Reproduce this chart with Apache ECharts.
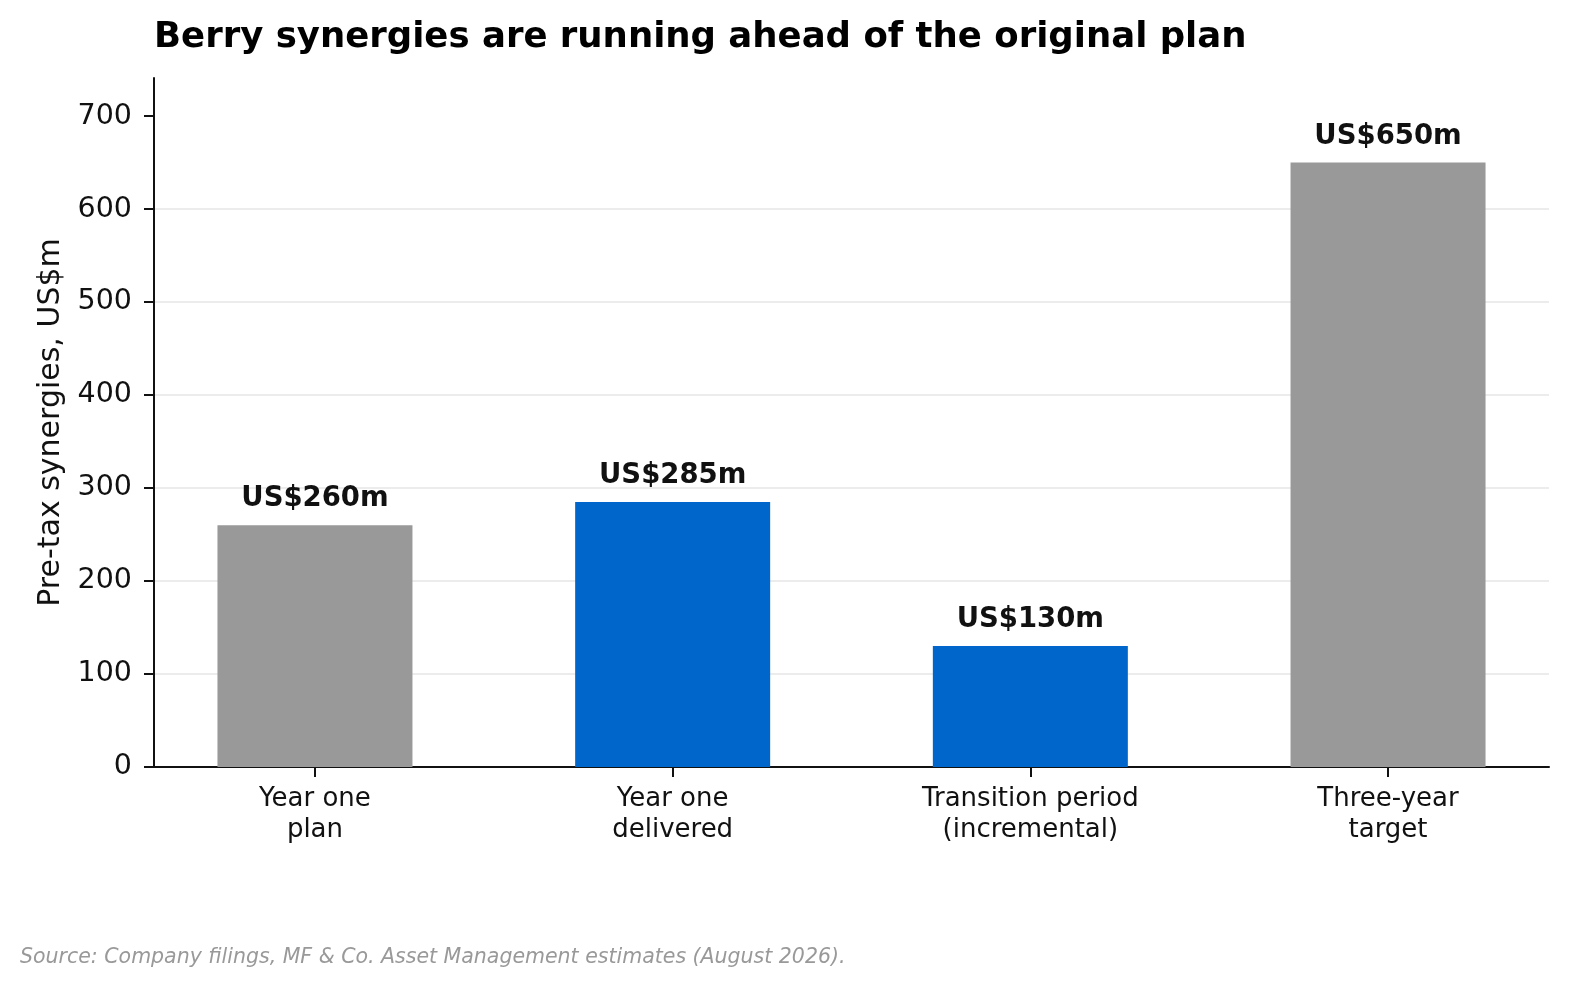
<!DOCTYPE html>
<html>
<head>
<meta charset="utf-8">
<script src="https://cdn.jsdelivr.net/npm/echarts@6/dist/echarts.min.js"></script>
<style>
  html, body { margin: 0; padding: 0; background: #fff; }
  #chart { width: 1590px; height: 1000px; }
</style>
</head>
<body>
<div id="chart"></div>
<script>
// chart data
const categories = ["Year one\nplan", "Year one\ndelivered", "Transition period\n(incremental)", "Three-year\ntarget"];
const values = [260, 285, 130, 650];
const barLabels = ["US$260m", "US$285m", "US$130m", "US$650m"];
const barColors = ["#999999", "#0066CC", "#0066CC", "#999999"];
const yTicks = [0, 100, 200, 300, 400, 500, 600, 700];

const FONT = "DejaVu Sans";

let chart = echarts.init(document.getElementById("chart"));

// bars sit on a value x axis so the side margins match the original
let barData = values.map((v, i) => ({
  value: [i, v],
  itemStyle: { color: barColors[i] },
  label: { formatter: barLabels[i] },
}));

let option = {
  backgroundColor: "#fff",
  animation: false,
  title: {
    text: "Berry synergies are running ahead of the original plan",
    left: 149,
    top: 15,
    textStyle: { fontFamily: FONT, fontSize: 35.5, fontWeight: "bold", color: "#000" },
  },
  grid: { left: 154, right: 41, top: 78, bottom: 233 },
  xAxis: {
    type: "value",
    min: -0.45,
    max: 3.45,
    splitLine: { show: false },
    axisLine: { show: true, onZero: false, lineStyle: { color: "#111", width: 2 } },
    axisTick: { show: true, length: 10, customValues: [0, 1, 2, 3], lineStyle: { color: "#111", width: 2 } },
    axisLabel: {
      customValues: [0, 1, 2, 3],
      formatter: (v) => categories[Math.round(v)],
      margin: 17,
      fontFamily: FONT,
      fontSize: 26,
      lineHeight: 31,
      color: "#111",
    },
  },
  yAxis: {
    type: "value",
    min: 0,
    max: 741,
    interval: 100,
    name: "Pre-tax synergies, US$m",
    nameLocation: "middle",
    nameGap: 87,
    nameTextStyle: { fontFamily: FONT, fontSize: 30, color: "#111" },
    axisLine: { show: true, onZero: false, lineStyle: { color: "#111", width: 2 } },
    axisTick: { show: true, length: 10, customValues: yTicks, lineStyle: { color: "#111", width: 2 } },
    axisLabel: {
      customValues: yTicks,
      margin: 22,
      fontFamily: FONT,
      fontSize: 28.5,
      color: "#111",
    },
    splitLine: { show: true, showMinLine: false, showMaxLine: false, lineStyle: { color: "#e6e6e6", width: 1.5 } },
  },
  series: [
    {
      type: "bar",
      barWidth: 195,
      data: barData,
      label: {
        show: true,
        position: "top",
        distance: 12,
        fontFamily: FONT,
        fontSize: 27.5,
        fontWeight: "bold",
        color: "#111",
      },
    },
  ],
  graphic: [
    {
      type: "text",
      left: 20,
      top: 948,
      style: {
        text: "Source: Company filings, MF & Co. Asset Management estimates (August 2026).",
        font: "italic 20.5px 'DejaVu Sans'",
        fill: "#999999",
      },
    },
  ],
};

chart.setOption(option);
</script>
</body>
</html>
